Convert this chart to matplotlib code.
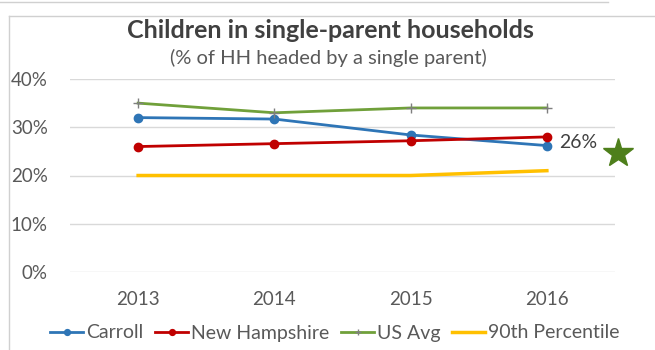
import numpy as np
import matplotlib
matplotlib.use("Agg")
import matplotlib.pyplot as plt
from matplotlib.lines import Line2D

years = ["2013", "2014", "2015", "2016"]
carroll = [32.0, 31.7, 28.4, 26.2]
new_hampshire = [26.0, 26.6, 27.2, 28.0]
us_avg = [35.0, 33.0, 34.0, 34.0]
pct90 = [20.0, 20.0, 20.0, 21.0]
yticks = [0, 10, 20, 30, 40]
star_value = 24.6
end_label = "26%"

plt.rcParams.update({'font.family': ['Lato', 'DejaVu Sans']})

fig = plt.figure(figsize=(6.55, 3.5), dpi=100)
ax = fig.add_axes([70 / 655, 1 - 272 / 350, 545 / 655, 193 / 350])

x = np.arange(len(years))
ax.plot(x, carroll, color='#2E75B6', lw=2, marker='o', ms=6, label='Carroll')
ax.plot(x, new_hampshire, color='#C00000', lw=2, marker='o', ms=6, label='New Hampshire')
ax.plot(x, us_avg, color='#70A03A', lw=2, marker='+', ms=7, mec='#7F7F7F', mew=1, label='US Avg')
ax.plot(x, pct90, color='#FFC000', lw=2.5, label='90th Percentile')

# value label at the last Carroll point, plus the star beside it
ax.text(x[-1] + 0.09, carroll[-1] + 0.6, end_label, color='#404040', fontsize=14, va='center', ha='left')
ax.plot([x[-1] + 0.52], [star_value], marker='*', ms=22, color='#4E7F1B', clip_on=False)

ax.set_xlim(-0.5, 3.5)
ax.set_ylim(0, 40)
ax.set_xticks(x)
ax.set_xticklabels(years)
ax.set_yticks(yticks)
ax.set_yticklabels([f"{v}%" for v in yticks])
ax.tick_params(length=0, labelsize=13.5, colors='#595959')
ax.tick_params(axis='x', pad=14)
ax.tick_params(axis='y', pad=16)
ax.grid(axis='y', color='#D9D9D9', lw=1)
ax.set_axisbelow(True)
for s in ax.spines.values():
    s.set_visible(False)

fig.text(330 / 655, 1 - 30 / 350, "Children in single-parent households", ha='center', va='center',
         fontsize=18, fontweight='bold', color='#404040')
fig.text(328 / 655, 1 - 58 / 350, "(% of HH headed by a single parent)", ha='center', va='center',
         fontsize=14.5, color='#595959')

leg = fig.legend(loc='center', bbox_to_anchor=(335 / 655, 1 - 333 / 350), ncol=4, frameon=False,
                 fontsize=14, handlelength=1.7, handletextpad=0.15, columnspacing=0.6,
                 markerscale=0.7)
for t in leg.get_texts():
    t.set_color('#595959')

# outer frame lines
fig.add_artist(Line2D([0, 608 / 655], [1 - 1.5 / 350] * 2, color='#D0D0D0', lw=1))
fig.add_artist(Line2D([9 / 655, 1], [1 - 16 / 350] * 2, color='#D0D0D0', lw=1))
fig.add_artist(Line2D([9 / 655] * 2, [0, 1 - 16 / 350], color='#D0D0D0', lw=1))

fig.savefig("out.png", dpi=100)
